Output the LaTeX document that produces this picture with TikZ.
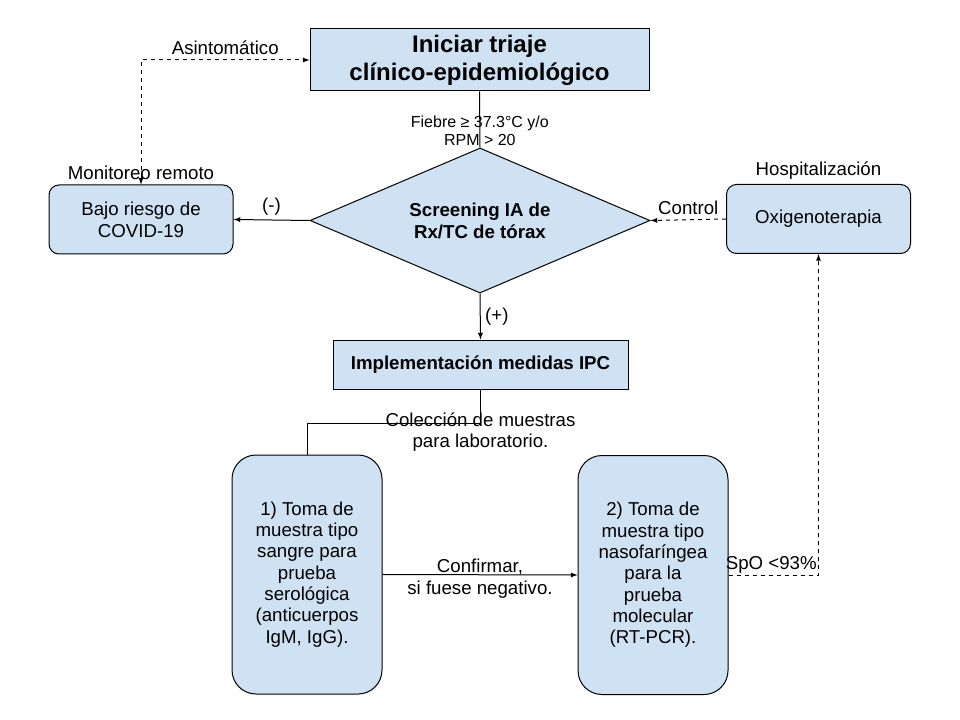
\documentclass[tikz,border=0pt]{standalone}
\usepackage{fontspec}
\setmainfont{Liberation Sans}
\usetikzlibrary{shapes.geometric}
\tikzset{>=latex}
\definecolor{boxblue}{HTML}{CFE2F3}
\tikzset{
  box/.style={draw, fill=boxblue, align=center, font=\fontsize{14}{16.5}\selectfont\bfseries},
  rbox/.style={draw, fill=boxblue, rounded corners=7.5pt, align=center,
               minimum width=138pt, minimum height=51.75pt, font=\fontsize{14}{16.5}\selectfont},
  tallbox/.style={draw, fill=boxblue, rounded corners=18pt, align=center,
                  minimum width=112.5pt, minimum height=179.25pt, font=\fontsize{14}{16}\selectfont},
  decision/.style={diamond, draw, fill=boxblue, aspect=2.34, inner sep=0pt,
                   minimum width=255pt, minimum height=108.75pt, align=center,
                   font=\fontsize{14}{16.5}\selectfont\bfseries},
  lbl/.style={align=center, font=\fontsize{14}{16}\selectfont},
}

\begin{document}
\begin{tikzpicture}[x=0.75pt,y=-0.75pt,line width=0.75pt]
  \useasboundingbox (0,0) rectangle (960,720);
  % nodes
  \node[box, minimum width=254.25pt, minimum height=46.5pt,
        font=\fontsize{18}{21}\selectfont\bfseries] (start) at (479.5,60)
       {Iniciar triaje\\clínico-epidemiológico};
  \node[decision] (scr) at (480,220.5) {Screening IA de\\Rx/TC de tórax};
  \node[box, minimum width=221.25pt, minimum height=36.75pt] (ipc) at (480.5,364.5)
       {Implementación medidas IPC};
  \node[rbox, label={[lbl]above:Monitoreo remoto}] (bajo) at (141,219.5)
       {Bajo riesgo de\\COVID-19};
  \node[rbox, label={[lbl]above:Hospitalización}] (oxi) at (818.5,219)
       {Oxigenoterapia};
  \node[tallbox] (sero) at (307,574.5)
       {1) Toma de\\muestra tipo\\sangre para\\prueba\\serológica\\(anticuerpos\\IgM, IgG).};
  \node[tallbox] (naso) at (653,575)
       {2) Toma de\\muestra tipo\\nasofaríngea\\para la\\prueba\\molecular\\(RT-PCR).};
  \node[lbl] (labtxt) at (480.5,432) {Colección de muestras\\para laboratorio.};
  % connectors
  \draw (start.south) -- node[pos=0.7, align=center, font=\fontsize{12}{13.5}\selectfont]
       {Fiebre ≥ 37.3°C y/o\\RPM > 20} (scr.north);
  \draw[->] (scr.west) -- node[lbl, above] {(-)} (bajo.east);
  \draw[->] (scr.south) -- node[lbl, right] {(+)} (ipc.north);
  \draw[->,dashed] (oxi.west) -- node[lbl, above] {Control} (scr.east);
  \draw[<->,dashed] (bajo.north) |- node[lbl, pos=0.75, above] {Asintomático} (start.west);
  \draw (ipc.south) -- ++(0,34) -| (sero.north);
  \draw[->] (sero.east) -- node[lbl, yshift=-3pt] {Confirmar,\\si fuese negativo.} (naso.west);
  \draw[->,dashed] (naso.east) -| node[lbl, pos=0.5, above left, inner sep=1pt] {SpO <93\%} (oxi.south);
\end{tikzpicture}
\end{document}
